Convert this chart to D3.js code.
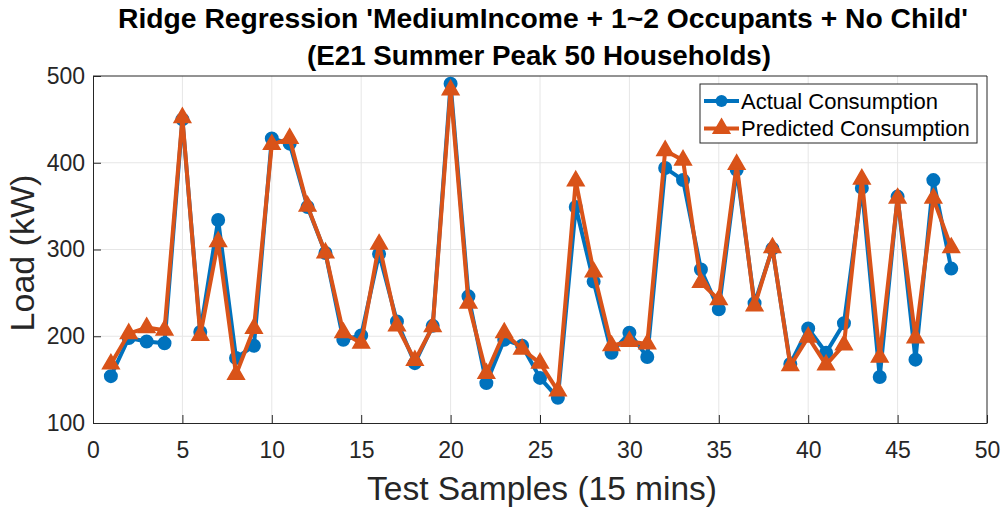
<!DOCTYPE html>
<html>
<head>
<meta charset="utf-8">
<script src="https://cdn.jsdelivr.net/npm/d3@7"></script>
<style>
  body { margin: 0; background: #fff; }
  text { font-family: "Liberation Sans", Arial, sans-serif; }
</style>
</head>
<body>
<div id="chart"></div>
<script>
// values
const samples = d3.range(1, 49);
const actual = [154, 198, 194, 192, 450, 205, 334, 175, 189, 428,
                422, 349, 296, 196, 201, 295, 217, 169, 212, 491,
                246, 146, 196, 189, 152, 129, 349, 263, 181, 204,
                176, 394, 380, 277, 231, 392, 238, 301, 168, 209,
                181, 215, 371, 153, 361, 173, 380, 278];
const predicted = [168, 203, 210, 207, 452, 201, 309, 156, 209, 421,
                   428, 350, 296, 204, 192, 306, 212, 172, 211, 484,
                   238, 157, 204, 185, 169, 137, 379, 274, 189, 194,
                   191, 414, 403, 262, 242, 398, 235, 302, 166, 199,
                   167, 190, 381, 176, 359, 198, 359, 302];
const xTicks = d3.range(0, 51, 5);
const yTicks = [100, 200, 300, 400, 500];
const seriesNames = ["Actual Consumption", "Predicted Consumption"];

const width = 1005, height = 509;
const margin = {top: 76, right: 18, bottom: 86, left: 93};
const blue = "#0072BD", orange = "#D95319";

const svg = d3.select("#chart").append("svg")
  .attr("width", width).attr("height", height);

const x = d3.scaleLinear().domain([0, 50]).range([margin.left, width - margin.right]);
const y = d3.scaleLinear().domain([100, 500]).range([height - margin.bottom, margin.top]);

// grid
svg.append("g").selectAll("line").data(xTicks.slice(1, -1)).join("line")
  .attr("x1", d => x(d)).attr("x2", d => x(d))
  .attr("y1", y(100)).attr("y2", y(500))
  .attr("stroke", "#e6e6e6").attr("stroke-width", 1);
svg.append("g").selectAll("line").data(yTicks.slice(1, -1)).join("line")
  .attr("y1", d => y(d)).attr("y2", d => y(d))
  .attr("x1", x(0)).attr("x2", x(50))
  .attr("stroke", "#e6e6e6").attr("stroke-width", 1);

// axes (ticks inside, like matlab)
const xAxis = svg.append("g")
  .attr("transform", `translate(0,${y(100)})`)
  .call(d3.axisBottom(x).tickValues(xTicks).tickSizeInner(-8).tickSizeOuter(0).tickPadding(19));
const yAxis = svg.append("g")
  .attr("transform", `translate(${x(0)},0)`)
  .call(d3.axisLeft(y).tickValues(yTicks).tickSizeInner(-8).tickSizeOuter(0).tickPadding(8));
[xAxis, yAxis].forEach(g => {
  g.select(".domain").attr("stroke", "#262626").attr("stroke-width", 1);
  g.selectAll(".tick line").attr("stroke", "#262626");
  g.selectAll(".tick text").attr("font-size", 23).attr("fill", "#262626")
    .style("font-family", "'Liberation Sans', Arial, sans-serif");
});
// top & right border
svg.append("path")
  .attr("d", `M${x(0)},${y(500)}H${x(50)}V${y(100)}`)
  .attr("fill", "none").attr("stroke", "#262626").attr("stroke-width", 1);

// lines
const line = d3.line().x(d => x(d[0])).y(d => y(d[1]));
const actPts = samples.map((s, i) => [s, actual[i]]);
const prdPts = samples.map((s, i) => [s, predicted[i]]);

svg.append("path").datum(actPts).attr("d", line)
  .attr("fill", "none").attr("stroke", blue).attr("stroke-width", 4).attr("stroke-linejoin", "round");
svg.append("g").selectAll("circle").data(actPts).join("circle")
  .attr("cx", d => x(d[0])).attr("cy", d => y(d[1])).attr("r", 6)
  .attr("fill", blue).attr("stroke", blue).attr("stroke-width", 2);

const tri = d3.symbol().type(d3.symbolTriangle).size(120);
svg.append("path").datum(prdPts).attr("d", line)
  .attr("fill", "none").attr("stroke", orange).attr("stroke-width", 4).attr("stroke-linejoin", "round");
svg.append("g").selectAll("path").data(prdPts).join("path")
  .attr("d", tri)
  .attr("transform", d => `translate(${x(d[0])},${y(d[1])})`)
  .attr("fill", orange).attr("stroke", orange).attr("stroke-width", 1.5);

// legend
const lg = svg.append("g").attr("transform", "translate(700,84)");
lg.append("rect").attr("width", 277).attr("height", 59)
  .attr("fill", "#fff").attr("stroke", "#262626").attr("stroke-width", 1);
seriesNames.forEach((name, i) => {
  const ly = 17 + i * 27.5;
  const col = i === 0 ? blue : orange;
  lg.append("line").attr("x1", 4).attr("x2", 39).attr("y1", ly).attr("y2", ly)
    .attr("stroke", col).attr("stroke-width", 4);
  if (i === 0) {
    lg.append("circle").attr("cx", 21.5).attr("cy", ly).attr("r", 6).attr("fill", col);
  } else {
    lg.append("path").attr("d", tri).attr("transform", `translate(21.5,${ly})`)
      .attr("fill", col).attr("stroke", col).attr("stroke-width", 1.5);
  }
  lg.append("text").attr("x", 41).attr("y", ly + 7.5).attr("font-size", 22)
    .attr("fill", "#000").text(name);
});

// titles
svg.append("text").attr("x", 543).attr("y", 28).attr("text-anchor", "middle")
  .attr("font-size", 27.5).attr("font-weight", "bold")
  .attr("textLength", 850).attr("lengthAdjust", "spacingAndGlyphs")
  .text("Ridge Regression 'MediumIncome + 1~2 Occupants + No Child'");
svg.append("text").attr("x", 539).attr("y", 65).attr("text-anchor", "middle")
  .attr("font-size", 27.5).attr("font-weight", "bold")
  .attr("textLength", 464).attr("lengthAdjust", "spacingAndGlyphs")
  .text("(E21 Summer Peak 50 Households)");

// axis labels
svg.append("text").attr("x", 542).attr("y", 500).attr("text-anchor", "middle")
  .attr("font-size", 33.5).attr("fill", "#262626")
  .text("Test Samples (15 mins)");
svg.append("text").attr("transform", "translate(34,253) rotate(-90)")
  .attr("text-anchor", "middle").attr("font-size", 34).attr("fill", "#262626")
  .text("Load (kW)");
</script>
</body>
</html>
